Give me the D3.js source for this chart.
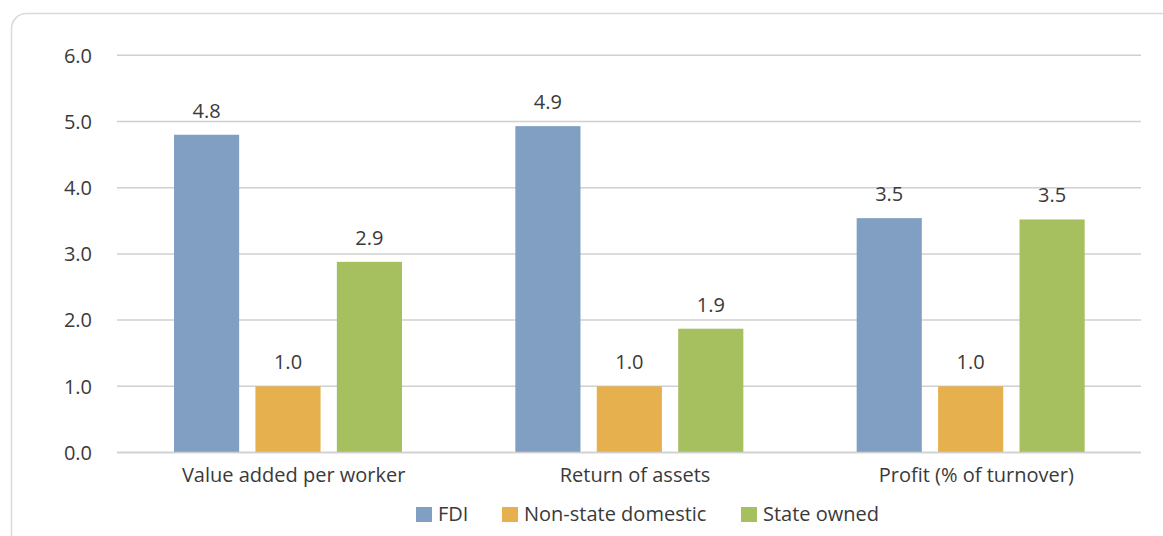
<!DOCTYPE html>
<html>
<head>
<meta charset="utf-8">
<script src="https://cdn.jsdelivr.net/npm/d3@7"></script>
<style>
  body { margin: 0; background: #fff; }
  svg { display: block; font-family: "Open Sans", sans-serif; }
</style>
</head>
<body>
<div id="chart"></div>
<script>
const width = 1163;
const height = 536;

const categories = ['Value added per worker', 'Return of assets', 'Profit (% of turnover)'];
const seriesNames = ['FDI', 'Non-state domestic', 'State owned'];
const fdi = [4.80, 4.93, 3.54];
const nonState = [1.0, 1.0, 1.0];
const stateOwned = [2.88, 1.87, 3.52];
const yTicks = [0, 1, 2, 3, 4, 5, 6];
const colors = ['#809fc3', '#e6b04e', '#a6bf5f'];

const series = [fdi, nonState, stateOwned];
const textColor = '#3a3a3a';
const fontSize = 20;

const svg = d3.select('#chart').append('svg')
  .attr('width', width)
  .attr('height', height);

// outer frame
svg.append('rect')
  .attr('x', 11.5)
  .attr('y', 13.5)
  .attr('width', 1200)
  .attr('height', 600)
  .attr('rx', 15)
  .attr('fill', 'none')
  .attr('stroke', '#d9d9d9')
  .attr('stroke-width', 1.5);

const x = d3.scaleBand()
  .domain(categories)
  .range([117, 1141]);

const xInner = d3.scaleBand()
  .domain(seriesNames)
  .range([57, 57 + 228])
  .paddingInner(0.2);

const y = d3.scaleLinear()
  .domain([0, 6])
  .range([452.5, 55.3]);

// gridlines
svg.append('g')
  .selectAll('line')
  .data(yTicks)
  .join('line')
  .attr('x1', 117)
  .attr('x2', 1141)
  .attr('y1', d => y(d))
  .attr('y2', d => y(d))
  .attr('stroke', '#d0d0d0')
  .attr('stroke-width', 1.5);

// y labels
svg.append('g')
  .selectAll('text')
  .data(yTicks)
  .join('text')
  .attr('x', 92)
  .attr('y', d => y(d))
  .attr('dy', '0.36em')
  .attr('text-anchor', 'end')
  .attr('font-size', fontSize)
  .attr('fill', textColor)
  .text(d => d.toFixed(1));

// bars
const groups = svg.append('g')
  .selectAll('g')
  .data(categories)
  .join('g')
  .attr('transform', d => `translate(${x(d)},0)`);

groups.each(function (cat, ci) {
  const g = d3.select(this);
  seriesNames.forEach((name, si) => {
    const v = series[si][ci];
    g.append('rect')
      .attr('x', xInner(name))
      .attr('y', y(v))
      .attr('width', xInner.bandwidth())
      .attr('height', y(0) - y(v))
      .attr('fill', colors[si]);
    g.append('text')
      .attr('x', xInner(name) + xInner.bandwidth() / 2)
      .attr('y', y(v) - 17)
      .attr('text-anchor', 'middle')
      .attr('font-size', fontSize)
      .attr('fill', textColor)
      .text(v.toFixed(1));
  });
});

// redraw baseline on top of bars
svg.append('line')
  .attr('x1', 117)
  .attr('x2', 1141)
  .attr('y1', y(0))
  .attr('y2', y(0))
  .attr('stroke', '#d0d0d0')
  .attr('stroke-width', 1.5);

// category labels
svg.append('g')
  .selectAll('text')
  .data(categories)
  .join('text')
  .attr('x', d => x(d) + x.bandwidth() / 2 + 6)
  .attr('y', 475)
  .attr('dy', '0.36em')
  .attr('text-anchor', 'middle')
  .attr('font-size', fontSize)
  .attr('fill', textColor)
  .text(d => d);

// legend
const legendX = [416, 502, 741];
const legend = svg.append('g')
  .selectAll('g')
  .data(seriesNames)
  .join('g')
  .attr('transform', (d, i) => `translate(${legendX[i]},514)`);

legend.append('rect')
  .attr('x', 0)
  .attr('y', -7)
  .attr('width', 16)
  .attr('height', 15)
  .attr('fill', (d, i) => colors[i]);

legend.append('text')
  .attr('x', 22)
  .attr('y', 0)
  .attr('dy', '0.36em')
  .attr('font-size', fontSize)
  .attr('fill', textColor)
  .text(d => d);
</script>
</body>
</html>
